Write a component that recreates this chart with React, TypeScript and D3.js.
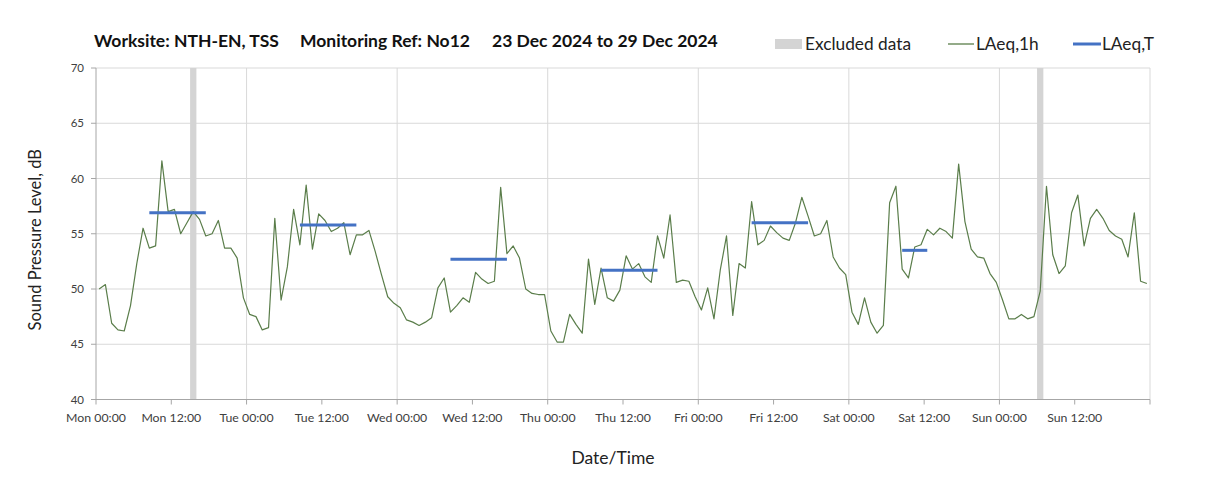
import React from 'react';
import * as d3 from 'd3';

const dayNames = ['Mon', 'Tue', 'Wed', 'Thu', 'Fri', 'Sat', 'Sun'];
const tickTimes = ['00:00', '12:00'];
const yTicks = [40, 45, 50, 55, 60, 65, 70];

const mon = [50.0, 50.4, 46.9, 46.3, 46.2, 48.5, 52.3, 55.5, 53.7, 53.9, 61.6, 57.0, 57.2, 55.0, 56.0, 57.0, 56.3, 54.8, 55.0, 56.2, 53.7, 53.7, 52.8, 49.2];
const tue = [47.7, 47.5, 46.3, 46.5, 56.4, 49.0, 52.0, 57.2, 54.0, 59.4, 53.6, 56.8, 56.2, 55.2, 55.5, 56.0, 53.1, 54.9, 54.9, 55.3, 53.4, 51.3, 49.3, 48.7];
const wed = [48.3, 47.2, 47.0, 46.7, 47.0, 47.4, 50.1, 51.0, 47.9, 48.5, 49.2, 48.8, 51.5, 50.9, 50.5, 50.7, 59.2, 53.2, 53.9, 52.8, 50.0, 49.6, 49.5, 49.5];
const thu = [46.2, 45.2, 45.2, 47.7, 46.8, 46.0, 52.7, 48.6, 51.9, 49.2, 48.9, 49.9, 53.0, 51.8, 52.3, 51.1, 50.6, 54.8, 52.8, 56.7, 50.6, 50.8, 50.7, 49.3];
const fri = [48.1, 50.1, 47.3, 51.7, 54.8, 47.6, 52.3, 51.9, 57.9, 54.0, 54.4, 55.7, 55.1, 54.6, 54.4, 56.0, 58.3, 56.6, 54.8, 55.0, 56.2, 52.9, 51.9, 51.3];
const sat = [47.9, 46.8, 49.2, 47.0, 46.0, 46.7, 57.8, 59.3, 51.8, 51.0, 53.8, 54.0, 55.4, 54.9, 55.5, 55.2, 54.6, 61.3, 56.1, 53.6, 52.9, 52.8, 51.4, 50.6];
const sun = [49.0, 47.3, 47.3, 47.7, 47.3, 47.5, 49.8, 59.3, 53.1, 51.4, 52.1, 56.9, 58.5, 53.9, 56.4, 57.2, 56.4, 55.3, 54.8, 54.5, 52.9, 56.9, 50.7, 50.5];
const laeq1h = [...mon, ...tue, ...wed, ...thu, ...fri, ...sat, ...sun];

// excluded hours (hour index from Mon 00:00)
const excludedHours = [15, 150];

// LAeq,T periods
const ltDay = [0, 1, 2, 3, 4, 5];
const ltFrom = [8.5, 8.5, 8.5, 8.5, 8.5, 8.5];
const ltTo = [17.5, 17.5, 17.5, 17.5, 17.5, 12.5];
const ltValue = [56.9, 55.8, 52.7, 51.7, 56.0, 53.5];

const W = 1208;
const H = 488;
const FONT = 'Lato, "Open Sans", sans-serif';

export default function App() {
  const x = d3.scaleLinear().domain([0, 168]).range([96, 1150]);
  const y = d3.scaleLinear().domain([40, 70]).range([399.5, 68]);
  const line = d3
    .line<number>()
    .x((_, i) => x(i + 0.5))
    .y((d) => y(d));

  const xTicks = d3.range(0, 168, 12);
  const dayLines = d3.range(24, 169, 24);

  return (
    <svg width={W} height={H} style={{ position: 'absolute', left: 0, top: 0, background: '#fff' }} fontFamily={FONT}>
      {/* title */}
      <g fontWeight={700} fontSize={17.5} fill="#111">
        <text x={94} y={47}>Worksite: NTH-EN, TSS</text>
        <text x={300} y={47}>Monitoring Ref: No12</text>
        <text x={492} y={47}>23 Dec 2024 to 29 Dec 2024</text>
      </g>
      {/* legend */}
      <g fontSize={17.3} fill="#222">
        <rect x={775} y={39} width={27} height={10} fill="#d4d4d4" />
        <text x={805} y={50}>Excluded data</text>
        <line x1={948} x2={974} y1={44} y2={44} stroke="#5a7d4a" strokeWidth={1.3} />
        <text x={976} y={50}>LAeq,1h</text>
        <line x1={1073} x2={1101} y1={44} y2={44} stroke="#4472c4" strokeWidth={3} />
        <text x={1102} y={50}>LAeq,T</text>
      </g>
      {/* horizontal gridlines */}
      {yTicks.filter((t) => t > 40).map((t) => (
        <line key={'hg' + t} x1={x(0)} x2={x(168)} y1={y(t)} y2={y(t)} stroke="#d9d9d9" strokeWidth={1} />
      ))}
      {/* vertical gridlines */}
      {dayLines.map((h) => (
        <line key={'vg' + h} x1={x(h)} x2={x(h)} y1={y(70)} y2={y(40)} stroke="#d9d9d9" strokeWidth={1} />
      ))}
      {/* excluded bars */}
      {excludedHours.map((h) => (
        <rect key={'ex' + h} x={x(h)} y={y(70)} width={x(h + 1) - x(h)} height={y(40) - y(70)} fill="#d4d4d4" />
      ))}
      {/* axes */}
      <line x1={x(0)} x2={x(0)} y1={y(70)} y2={y(40)} stroke="#a6a6a6" />
      <line x1={x(0)} x2={x(168)} y1={y(40)} y2={y(40)} stroke="#a6a6a6" />
      {yTicks.map((t) => (
        <g key={'yt' + t}>
          <line x1={x(0) - 5} x2={x(0)} y1={y(t)} y2={y(t)} stroke="#a6a6a6" />
          <text x={84} y={y(t)} dy="0.35em" textAnchor="end" fontSize={11.5} fill="#404040">{t}</text>
        </g>
      ))}
      {xTicks.map((h, i) => (
        <g key={'xt' + h}>
          <line x1={x(h)} x2={x(h)} y1={y(40)} y2={y(40) + 5} stroke="#a6a6a6" />
          <text x={x(h)} y={422} textAnchor="middle" fontSize={12.3} fill="#404040">
            {dayNames[Math.floor(h / 24)] + ' ' + tickTimes[(h % 24) / 12]}
          </text>
        </g>
      ))}
      <line x1={x(168)} x2={x(168)} y1={y(40)} y2={y(40) + 5} stroke="#a6a6a6" />
      {/* axis titles */}
      <text x={613} y={464} textAnchor="middle" fontSize={17.5} fill="#222">Date/Time</text>
      <text transform={`translate(41, ${(y(40) + y(70)) / 2 + 6}) rotate(-90)`} textAnchor="middle" fontSize={16.5} fill="#222">
        Sound Pressure Level, dB
      </text>
      {/* LAeq,1h */}
      <path d={line(laeq1h) || ''} fill="none" stroke="#5a7d4a" strokeWidth={1.2} strokeLinejoin="round" />
      {/* LAeq,T */}
      {ltDay.map((d, i) => (
        <line
          key={'lt' + i}
          x1={x(d * 24 + ltFrom[i])}
          x2={x(d * 24 + ltTo[i])}
          y1={y(ltValue[i])}
          y2={y(ltValue[i])}
          stroke="#4472c4"
          strokeWidth={3}
        />
      ))}
    </svg>
  );
}
